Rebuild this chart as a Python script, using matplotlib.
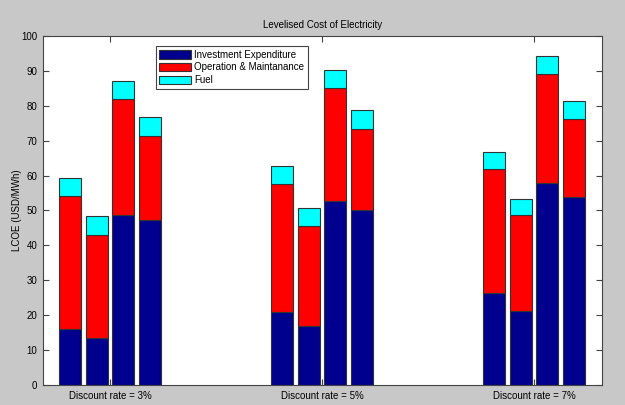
import numpy as np
import matplotlib.pyplot as plt

plt.rcParams['font.family'] = ['Liberation Sans', 'DejaVu Sans']

groups = ["Discount rate = 3%", "Discount rate = 5%", "Discount rate = 7%"]

# 4 bars per group (values in USD/MWh)
invest = [[16.0, 13.5, 48.6, 47.4],
          [20.9, 17.0, 52.8, 50.2],
          [26.5, 21.1, 57.9, 54.0]]
om = [[38.1, 29.6, 33.3, 24.0],
      [36.7, 28.6, 32.2, 23.2],
      [35.4, 27.6, 31.1, 22.3]]
fuel = [[5.2, 5.2, 5.2, 5.4],
        [5.1, 5.1, 5.2, 5.3],
        [5.0, 4.7, 5.2, 5.0]]

invest = np.array(invest)
om = np.array(om)
fuel = np.array(fuel)

fig = plt.figure(figsize=(6.25, 4.05), dpi=100, facecolor="#c8c8c8")
ax = fig.add_axes([0.0688, 0.0494, 0.8939, 0.8617])

centers = np.arange(1, len(groups) + 1)
offsets = np.array([-0.1875, -0.0625, 0.0625, 0.1875])
w = 0.103
ec = "#333333"

for i, c in enumerate(centers):
    x = c + offsets
    ax.bar(x, invest[i], w, color="#00008f", edgecolor=ec, linewidth=0.8,
           label="Investment Expenditure" if i == 0 else None)
    ax.bar(x, om[i], w, bottom=invest[i], color="#ff0000", edgecolor=ec, linewidth=0.8,
           label="Operation & Maintanance" if i == 0 else None)
    ax.bar(x, fuel[i], w, bottom=invest[i] + om[i], color="#00ffff", edgecolor=ec, linewidth=0.8,
           label="Fuel" if i == 0 else None)

ax.set_xlim(0.684, 3.319)
ax.set_ylim(0, 100)
ax.set_xticks(centers)
ax.set_xticklabels(groups)
ax.set_yticks(np.arange(0, 101, 10))
ax.tick_params(direction="in", top=True, right=True, labelsize=7, length=4,
               width=0.8, color="#444444", pad=4)
for s in ax.spines.values():
    s.set_color("#444444")
    s.set_linewidth(0.8)

ax.set_title("Levelised Cost of Electricity", fontsize=7, pad=6)
ax.set_ylabel("LCOE (USD/MWh)", fontsize=7)
ax.yaxis.set_label_coords(-0.037, 0.5)

leg = ax.legend(loc="upper left", bbox_to_anchor=(0.202, 0.971), fontsize=7,
                fancybox=False, edgecolor="#444444", framealpha=1,
                handlelength=3.3, handleheight=1.0, handletextpad=0.3,
                labelspacing=0.3, borderpad=0.35, borderaxespad=0)
leg.get_frame().set_linewidth(0.8)

plt.savefig("out.png", dpi=100, facecolor=fig.get_facecolor())
